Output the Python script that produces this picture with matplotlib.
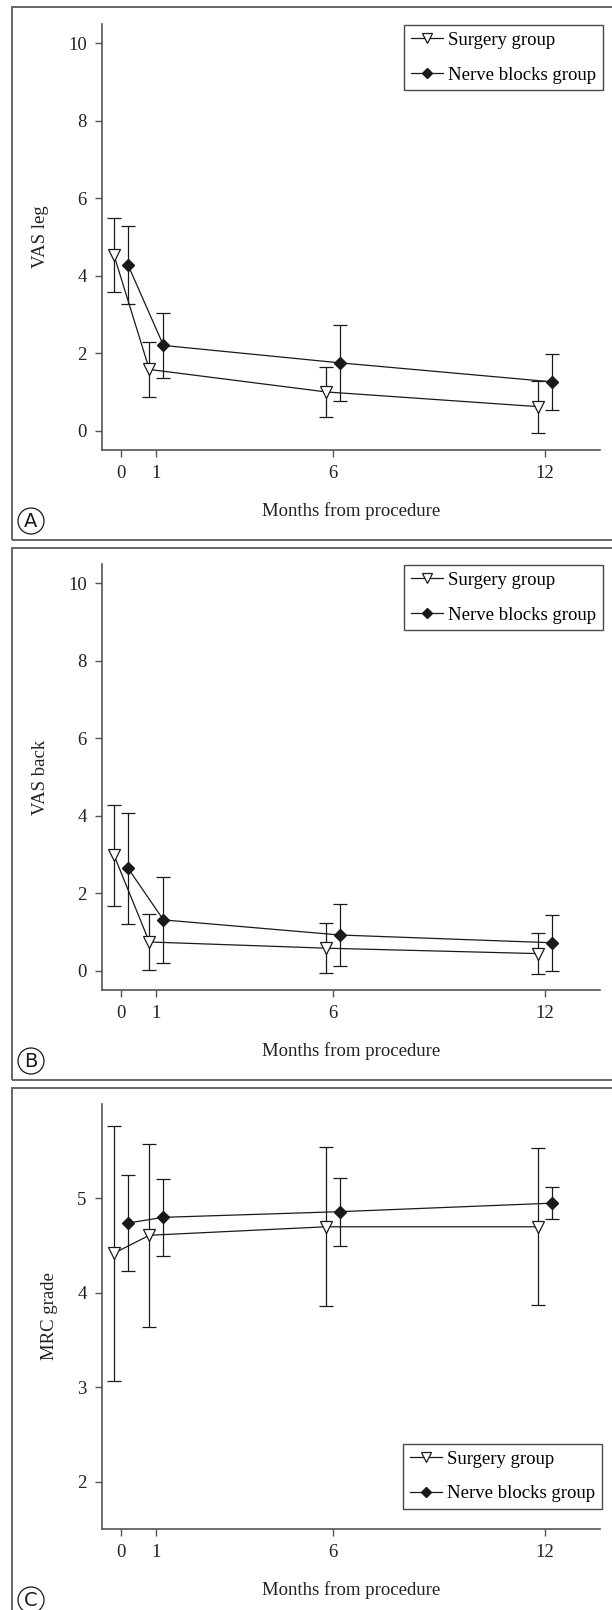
import matplotlib
matplotlib.use("Agg")
import matplotlib.pyplot as plt
from matplotlib.patches import Rectangle

plt.rcParams['font.family'] = ['Liberation Serif', 'DejaVu Serif']

# Data (mean and half error bar)
months = [0, 1, 6, 12]
offset = 0.2

vas_leg_surgery = [4.53, 1.58, 1.00, 0.62]
vas_leg_surgery_err = [0.95, 0.70, 0.64, 0.67]
vas_leg_nerve = [4.27, 2.20, 1.75, 1.26]
vas_leg_nerve_err = [1.01, 0.84, 0.98, 0.73]

vas_back_surgery = [2.98, 0.74, 0.58, 0.44]
vas_back_surgery_err = [1.30, 0.72, 0.64, 0.52]
vas_back_nerve = [2.64, 1.31, 0.92, 0.72]
vas_back_nerve_err = [1.44, 1.12, 0.81, 0.72]

mrc_surgery = [4.42, 4.61, 4.70, 4.70]
mrc_surgery_err = [1.35, 0.97, 0.84, 0.83]
mrc_nerve = [4.74, 4.80, 4.86, 4.95]
mrc_nerve_err = [0.51, 0.41, 0.36, 0.17]

W, H = 612, 1610
fig = plt.figure(figsize=(W / 100, H / 100), dpi=100)

GRAY = '#555555'
INK = '#1a1a1a'
FS = 13.5


def fx(px):
    return px / W


def fy(py):
    return 1 - py / H


def panel(top_px, bottom_px, surg, surg_err, nerve, nerve_err,
          ylabel, ylim, yticks, legend_loc, legend_anchor):
    ax = fig.add_axes([fx(102), fy(bottom_px), fx(600) - fx(102),
                       fy(top_px) - fy(bottom_px)])
    xs = [m - offset for m in months]
    xn = [m + offset for m in months]
    ax.errorbar(xs, surg, yerr=surg_err, color=INK, lw=0.9, elinewidth=0.9,
                capsize=5.2, capthick=0.9, marker='v', ms=8, mfc='white',
                mec=INK, mew=0.9, label='Surgery group', zorder=3)
    ax.errorbar(xn, nerve, yerr=nerve_err, color=INK, lw=0.9, elinewidth=0.9,
                capsize=5.2, capthick=0.9, marker='D', ms=6.5, mfc=INK,
                mec=INK, label='Nerve blocks group', zorder=3)

    ax.set_xlim(-0.54, 13.56)
    ax.set_ylim(*ylim)
    ax.set_xticks(months)
    ax.set_yticks(yticks)
    for s in ('top', 'right'):
        ax.spines[s].set_visible(False)
    for s in ('left', 'bottom'):
        ax.spines[s].set_color(GRAY)
        ax.spines[s].set_linewidth(1.2)
    ax.tick_params(direction='out', length=5, width=1, color=GRAY,
                   labelsize=FS, labelcolor='#222222', pad=6)
    ax.set_xlabel('Months from procedure', fontsize=FS, color='#222222',
                  labelpad=14)
    ax.set_ylabel(ylabel, fontsize=FS, color='#222222', labelpad=14)

    handles, labels = ax.get_legend_handles_labels()
    handles = [h[0] for h in handles]
    leg = ax.legend(handles, labels, loc=legend_loc,
                    bbox_to_anchor=legend_anchor,
                    bbox_transform=fig.transFigure, fontsize=FS,
                    frameon=True, fancybox=False, borderaxespad=0,
                    handlelength=1.7, handletextpad=0.3, labelspacing=0.95,
                    borderpad=0.35, markerscale=0.85)
    leg.get_frame().set_edgecolor(INK)
    leg.get_frame().set_linewidth(1.0)
    return ax


panel(24, 450, vas_leg_surgery, vas_leg_surgery_err, vas_leg_nerve,
      vas_leg_nerve_err, 'VAS leg', (-0.5, 10.5), [0, 2, 4, 6, 8, 10],
      'upper right', (fx(603), fy(25)))
panel(564, 990, vas_back_surgery, vas_back_surgery_err, vas_back_nerve,
      vas_back_nerve_err, 'VAS back', (-0.5, 10.5), [0, 2, 4, 6, 8, 10],
      'upper right', (fx(603), fy(565)))
panel(1104, 1529, mrc_surgery, mrc_surgery_err, mrc_nerve, mrc_nerve_err,
      'MRC grade', (1.5, 6.0), [2, 3, 4, 5],
      'lower right', (fx(602), fy(1509)))

# panel frames
for top_px, bottom_px in [(7.5, 540), (548, 1080), (1088, 1625)]:
    fig.patches.append(Rectangle((fx(12), fy(bottom_px)), 1.1,
                                 fy(top_px) - fy(bottom_px),
                                 transform=fig.transFigure, fill=False,
                                 ec='#666666', lw=1.4))

# circled panel letters
for letter, cy in [('A', 521), ('B', 1061), ('C', 1600)]:
    fig.text(fx(31), fy(cy), letter, ha='center', va='center', fontsize=14,
             family='DejaVu Sans', color=INK,
             bbox=dict(boxstyle='circle,pad=0.18', fc='white', ec=INK,
                       lw=0.9))

fig.savefig('out.png', dpi=100)
